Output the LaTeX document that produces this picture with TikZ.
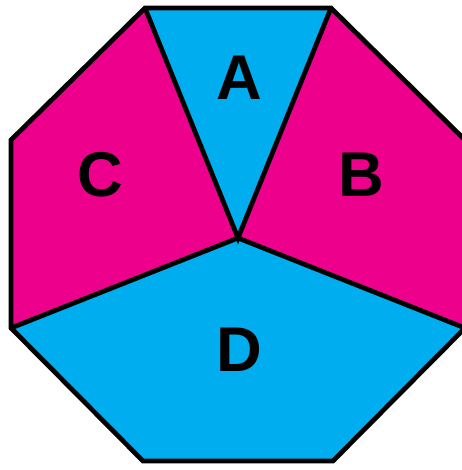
\documentclass[tikz,border=0pt]{standalone}
\usepackage{fontspec}
\setmainfont{Liberation Sans}
\definecolor{regionpink}{HTML}{EC008C}
\definecolor{regionblue}{HTML}{00AEEF}

\begin{document}
\begin{tikzpicture}[x=0.02cm, y=-0.02cm,
    edge/.style={line width=0.095cm},
    region label/.style={font=\bfseries\fontsize{36}{36}\selectfont}]
    \useasboundingbox (0,0) rectangle (462,470);
    \clip (0,0) rectangle (462,470);

    % --- Corners of the octagon and the middle point ---
    \coordinate (p1) at (145,8);
    \coordinate (p2) at (331,8);
    \coordinate (p3) at (465,140);
    \coordinate (p4) at (465,328);
    \coordinate (p5) at (333,461);
    \coordinate (p6) at (143,461);
    \coordinate (p7) at (11,328);
    \coordinate (p8) at (11,140);
    \coordinate (mid) at (238,238);

    % --- Fill the four regions ---
    \fill[regionblue] (p1) -- (p2) -- (mid) -- cycle;
    \fill[regionpink] (p2) -- (p3) -- (p4) -- (mid) -- cycle;
    \fill[regionblue] (p4) -- (p5) -- (p6) -- (p7) -- (mid) -- cycle;
    \fill[regionpink] (p7) -- (p8) -- (p1) -- (mid) -- cycle;

    % --- Outline and cuts ---
    \draw[edge] (p1) -- (p2) -- (p3) -- (p4) -- (p5) -- (p6) -- (p7) -- (p8) -- cycle;
    \draw[edge] (p1) -- (mid) -- (p2);
    \draw[edge] (p7) -- (mid) -- (p4);

    % Labels
    \node[region label] (labA) at (239,78) {A};
    \node[region label] (labB) at (361,175) {B};
    \node[region label] (labC) at (100,175) {C};
    \node[region label] (labD) at (239,350) {D};

\end{tikzpicture}
\end{document}
